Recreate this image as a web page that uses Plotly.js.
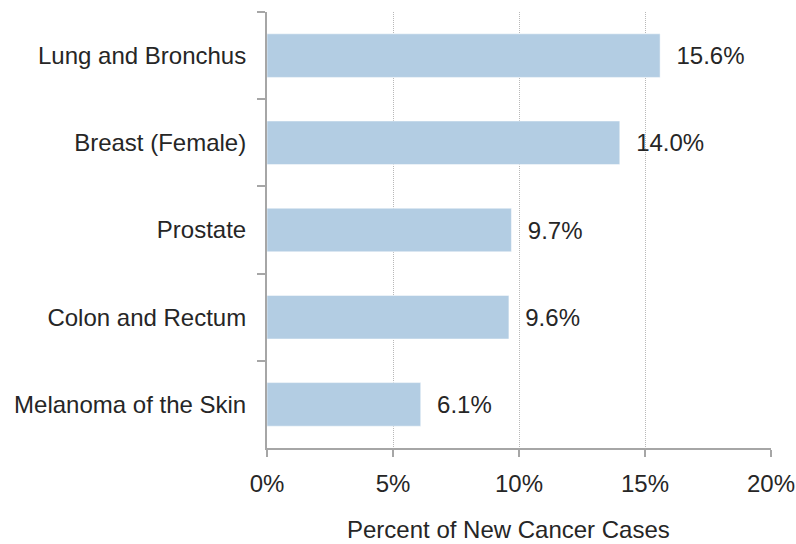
<!DOCTYPE html>
<html>
<head>
<meta charset="utf-8">
<script src="https://cdn.plot.ly/plotly-3.0.1.min.js"></script>
<style>html,body{margin:0;padding:0;background:#fff;}#chart{width:796px;height:544px;}</style>
</head>
<body>
<div id="chart"></div>
<script>
const categories = ["Lung and Bronchus", "Breast (Female)", "Prostate", "Colon and Rectum", "Melanoma of the Skin"];
const values = [15.6, 14.0, 9.7, 9.6, 6.1];
const tickVals = [0, 5, 10, 15, 20];
const tickText = ["0%", "5%", "10%", "15%", "20%"];
const xTitle = "Percent of New Cancer Cases";

const font = {family: "Liberation Sans, Arial, sans-serif", size: 24, color: "#262626"};

const trace = {
  type: "bar",
  orientation: "h",
  y: categories,
  x: values,
  width: 0.5,
  marker: {color: "#b3cde3", line: {color: "#ffffff", width: 0.5}},
  texttemplate: "\u00a0\u00a0%{x:.1f}%",
  textposition: "outside",
  textfont: font,
  cliponaxis: false,
  hoverinfo: "skip"
};

const layout = {
  width: 796, height: 544,
  margin: {l: 267, r: 25, t: 12, b: 96},
  paper_bgcolor: "#fff", plot_bgcolor: "#fff",
  font: font,
  showlegend: false,
  xaxis: {
    range: [0, 20],
    tickvals: tickVals, ticktext: tickText,
    showgrid: true, gridcolor: "#b8b8b8", griddash: "1px,1px", gridwidth: 1,
    zeroline: false,
    showline: true, linecolor: "#a6a6a6", linewidth: 2,
    ticks: "outside", ticklen: 7, tickcolor: "#a6a6a6", tickwidth: 2,
    ticklabelstandoff: 6,
    tickfont: font
  },
  yaxis: {
    autorange: "reversed",
    showgrid: false, zeroline: false,
    showline: true, linecolor: "#a6a6a6", linewidth: 2,
    ticks: "outside", ticklen: 8, tickcolor: "#a6a6a6", tickwidth: 2,
    tickson: "boundaries",
    ticklabelstandoff: 14,
    tickfont: font
  },
  annotations: [{
    text: xTitle, xref: "paper", yref: "paper",
    x: 0.48, y: -0.152, xanchor: "center", yanchor: "top",
    showarrow: false, font: font
  }]
};

Plotly.newPlot("chart", [trace], layout, {displayModeBar: false, staticPlot: true});
</script>
</body>
</html>
